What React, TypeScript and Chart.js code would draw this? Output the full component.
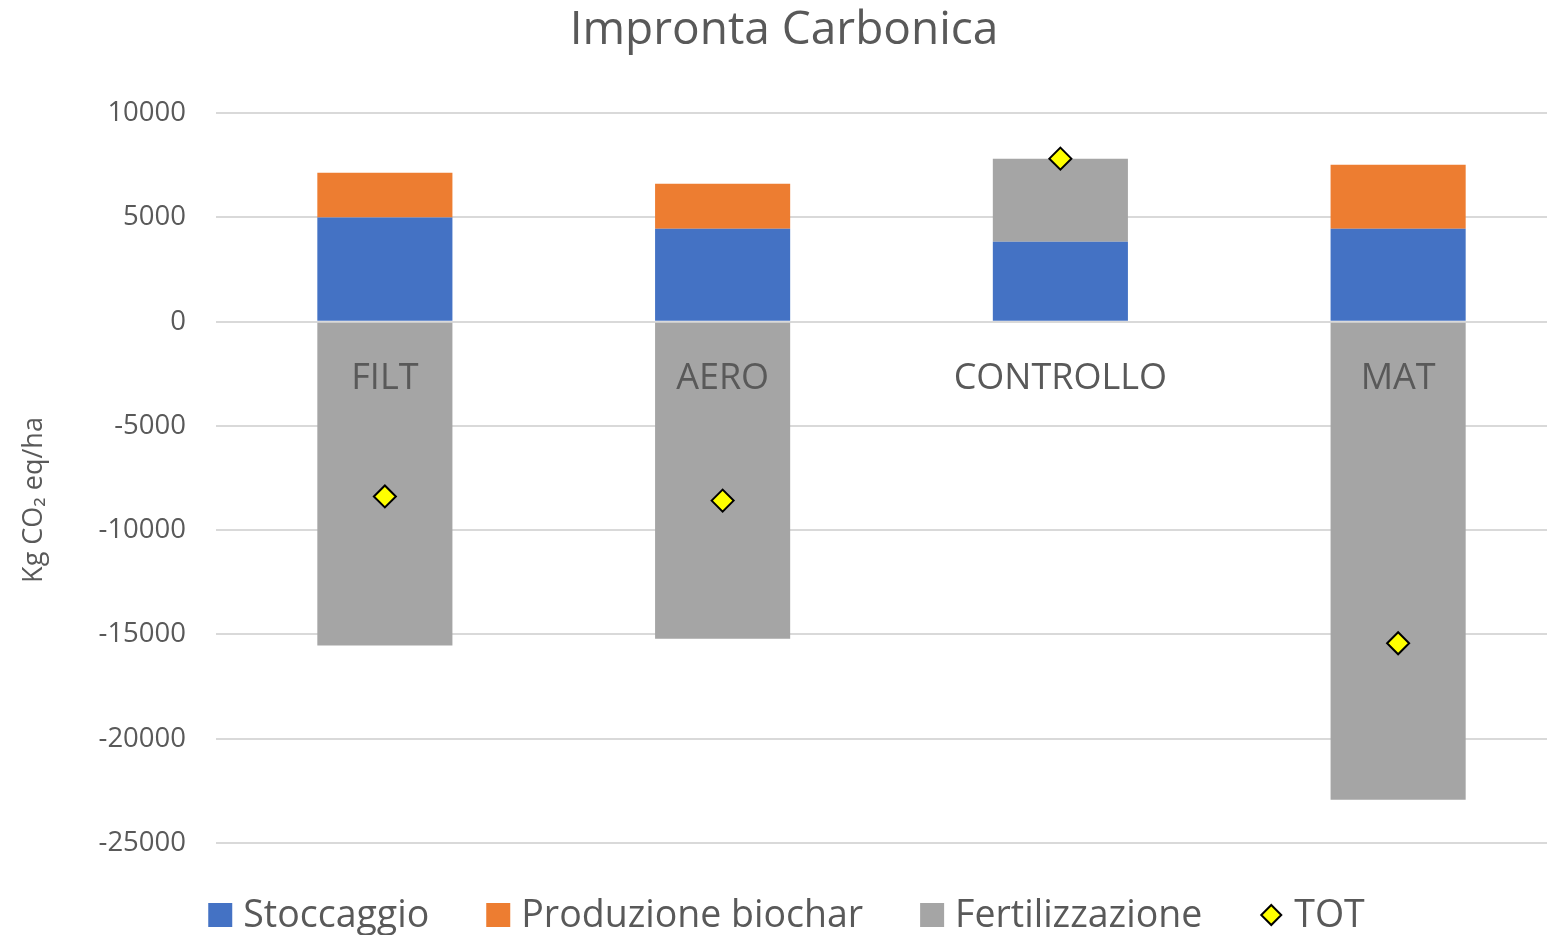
import React, { useEffect, useRef } from "react";
import { Chart, registerables } from "chart.js";

Chart.register(...registerables);

const categories = ["FILT", "AERO", "CONTROLLO", "MAT"];
const stoccaggio = [5000, 4460, 3840, 4460];
const produzioneBiochar = [2150, 2160, null, 3070];
const fertilizzazione = [-15530, -15200, 3980, -22920];
const tot = [-8380, -8580, 7820, -15420];
const yTicks = [10000, 5000, 0, -5000, -10000, -15000, -20000, -25000];
const yAxisTitle = "Kg CO₂ eq/ha";

const FONT = "'Open Sans', sans-serif";
const TEXT = "#595959";

const legendItems = [
  { label: "Stoccaggio", color: "#4472C4", kind: "box" },
  { label: "Produzione biochar", color: "#ED7D31", kind: "box" },
  { label: "Fertilizzazione", color: "#A5A5A5", kind: "box" },
  { label: "TOT", color: "#FFFF00", kind: "diamond" },
];

const categoryLabelPlugin = {
  id: "categoryLabels",
  afterDatasetsDraw(chart: any) {
    const { ctx, scales } = chart;
    const x = scales.x;
    const y = scales.y;
    ctx.save();
    ctx.font = `36px ${FONT}`;
    ctx.fillStyle = TEXT;
    ctx.textAlign = "center";
    ctx.textBaseline = "middle";
    categories.forEach((c, i) => {
      ctx.fillText(c, x.getPixelForValue(i), y.getPixelForValue(0) + 57);
    });
    ctx.restore();
  },
};

const yTitlePlugin = {
  id: "yTitle",
  afterDraw(chart: any) {
    const { ctx } = chart;
    ctx.save();
    ctx.translate(34, 500);
    ctx.rotate(-Math.PI / 2);
    ctx.font = `27px ${FONT}`;
    ctx.fillStyle = TEXT;
    ctx.textAlign = "center";
    ctx.textBaseline = "middle";
    ctx.fillText(yAxisTitle, 0, 0);
    ctx.restore();
  },
};

const customLegendPlugin = {
  id: "customLegend",
  afterDraw(chart: any) {
    const { ctx } = chart;
    ctx.save();
    ctx.font = `37.5px ${FONT}`;
    ctx.textBaseline = "middle";
    const box = 24;
    const gap = 11;
    const spacing = 57;
    const widths = legendItems.map((it) => ctx.measureText(it.label).width);
    const total =
      widths.reduce((a, b) => a + b, 0) +
      legendItems.length * (box + gap) +
      spacing * (legendItems.length - 1);
    let x = 786.5 - total / 2;
    const yc = 915;
    legendItems.forEach((it, i) => {
      if (it.kind === "box") {
        ctx.fillStyle = it.color;
        ctx.fillRect(x, yc - box / 2, box, box);
      } else {
        const r = 10;
        const cx = x + box / 2;
        ctx.beginPath();
        ctx.moveTo(cx, yc - r);
        ctx.lineTo(cx + r, yc);
        ctx.lineTo(cx, yc + r);
        ctx.lineTo(cx - r, yc);
        ctx.closePath();
        ctx.fillStyle = it.color;
        ctx.fill();
        ctx.lineWidth = 2;
        ctx.strokeStyle = "#000000";
        ctx.stroke();
      }
      ctx.fillStyle = TEXT;
      ctx.textAlign = "left";
      ctx.fillText(it.label, x + box + gap, yc + 1);
      x += box + gap + widths[i] + spacing;
    });
    ctx.restore();
  },
};

export default function App() {
  const ref = useRef<HTMLCanvasElement | null>(null);
  useEffect(() => {
    if (!ref.current) return;
    const chart = new Chart(ref.current, {
      type: "bar",
      data: {
        labels: categories,
        datasets: [
          {
            type: "line",
            label: "TOT",
            data: tot,
            showLine: false,
            pointStyle: "rectRot",
            pointRadius: 11,
            pointHoverRadius: 11,
            pointBackgroundColor: "#FFFF00",
            pointBorderColor: "#000000",
            pointBorderWidth: 2,
            backgroundColor: "#FFFF00",
            borderColor: "#000000",
            stack: "tot",
            order: 0,
          } as any,
          {
            label: "Stoccaggio",
            data: stoccaggio,
            backgroundColor: "#4472C4",
            stack: "s",
            order: 1,
            categoryPercentage: 1,
            barPercentage: 0.4,
          },
          {
            label: "Produzione biochar",
            data: produzioneBiochar,
            backgroundColor: "#ED7D31",
            stack: "s",
            order: 1,
            categoryPercentage: 1,
            barPercentage: 0.4,
          },
          {
            label: "Fertilizzazione",
            data: fertilizzazione,
            backgroundColor: "#A5A5A5",
            stack: "s",
            order: 1,
            categoryPercentage: 1,
            barPercentage: 0.4,
          },
        ],
      },
      options: {
        responsive: false,
        animation: false,
        layout: { padding: { top: 0, right: 12, bottom: 99, left: 0 } },
        plugins: {
          legend: { display: false },
          tooltip: { enabled: false },
          title: {
            display: true,
            text: "Impronta Carbonica",
            color: TEXT,
            font: { family: FONT, size: 46, weight: "normal" },
            padding: { top: 3, bottom: 55 },
          },
        },
        scales: {
          x: {
            stacked: true,
            grid: { display: false },
            border: { display: false },
            ticks: { display: false },
          },
          y: {
            stacked: true,
            min: -25000,
            max: 10000,
            afterFit(scale: any) {
              scale.width = 216;
            },
            afterBuildTicks(scale: any) {
              scale.ticks = yTicks.map((v) => ({ value: v }));
            },
            grid: { color: "#D9D9D9", lineWidth: 2, drawTicks: false },
            border: { display: false },
            ticks: {
              color: TEXT,
              padding: 30,
              font: { family: FONT, size: 27.5 },
              callback: (v: any) => String(v),
            },
          },
        },
      },
      plugins: [categoryLabelPlugin, customLegendPlugin, yTitlePlugin],
    });
    return () => chart.destroy();
  }, []);
  return (
    <div style={{ position: "fixed", left: 0, top: 0, width: "100vw", height: "100vh", overflow: "hidden", background: "#fff" }}>
      <canvas ref={ref} width={1580} height={950} style={{ width: 1580, height: 950, display: "block" }} />
    </div>
  );
}
